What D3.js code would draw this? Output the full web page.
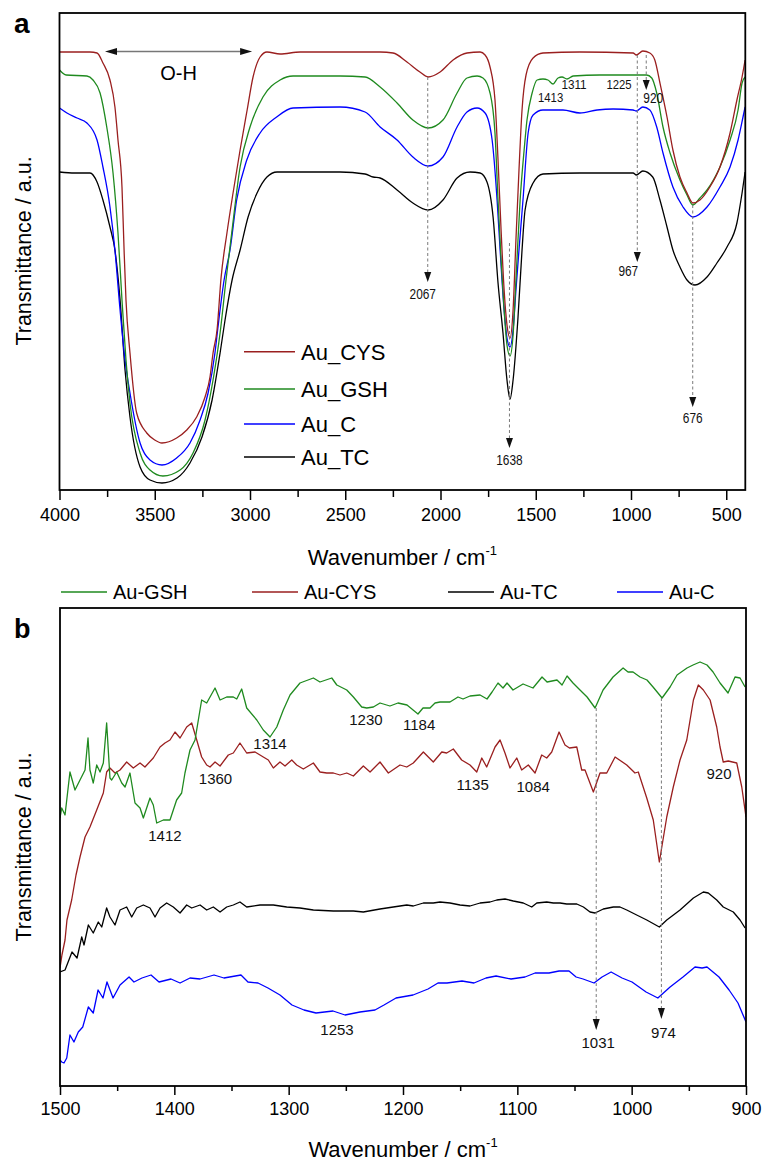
<!DOCTYPE html>
<html><head><meta charset="utf-8">
<script src="https://cdn.jsdelivr.net/npm/d3@7"></script>
<style>body{margin:0;background:#fff}svg{display:block}</style>
</head><body>
<svg id="c" width="762" height="1162"></svg>
<script>
// ---------------- DATA (wavenumber cm-1, transmittance a.u. offset) ----------------
const ticksA = [4000, 3500, 3000, 2500, 2000, 1500, 1000, 500];
const minorA = [3750, 3250, 2750, 2250, 1750, 1250, 750];
const ticksB = [1500, 1400, 1300, 1200, 1100, 1000, 900];
const minorB = [1450, 1350, 1250, 1150, 1050, 950];

const namesA = ["Au_CYS", "Au_GSH", "Au_C", "Au_TC"];
const namesB = ["Au-GSH", "Au-CYS", "Au-TC", "Au-C"];

const cysA = [[4000,438],[3920,438],[3840,438],[3803,437],[3772,427],[3735,410],[3709,383],[3693,350],[3672,303],[3661,240],[3651,190],[3630,137],[3595,77],[3542,57],[3500,50],[3462,47],[3385,52],[3332,60],[3280,73],[3236,93],[3210,113],[3194,137],[3173,160],[3152,212],[3121,257],[3089,297],[3052,340],[3015,380],[2984,413],[2947,433],[2911,438],[2842,436],[2737,438],[2527,438],[2317,438],[2249,437],[2176,428],[2108,418],[2065,413],[2002,418],[1934,430],[1861,437],[1792,438],[1766,435],[1740,423],[1714,390],[1698,330],[1682,260],[1666,200],[1651,165],[1635,152],[1619,180],[1604,250],[1588,320],[1572,380],[1551,415],[1514,432],[1462,437],[1268,438],[989,437],[972,435],[938,439],[901,437],[875,430],[848,407],[811,373],[780,340],[743,313],[706,297],[675,287],[638,290],[586,303],[533,323],[480,357],[444,390],[417,413],[401,430]];
const gshA = [[4000,420],[3965,415],[3856,414],[3824,410],[3787,397],[3752,363],[3719,317],[3693,257],[3672,190],[3651,130],[3630,87],[3577,37],[3525,20],[3457,14],[3367,20],[3299,37],[3236,70],[3194,110],[3157,157],[3126,210],[3096,257],[3052,323],[3000,363],[2932,393],[2842,410],[2774,414],[2527,414],[2396,413],[2317,403],[2228,387],[2145,370],[2065,362],[1987,370],[1913,397],[1861,412],[1808,414],[1777,412],[1740,397],[1714,357],[1698,290],[1682,230],[1666,180],[1651,145],[1635,134],[1619,155],[1604,210],[1582,290],[1561,340],[1546,370],[1519,397],[1493,410],[1462,411],[1436,410],[1409,406],[1383,412],[1362,413],[1336,411],[1304,414],[1163,415],[1058,415],[918,415],[891,412],[865,397],[832,363],[795,337],[743,310],[706,295],[675,285],[638,292],[601,300],[533,323],[480,350],[438,380],[417,407],[401,413]];
const cA = [[4000,382],[3961,377],[3908,372],[3856,367],[3803,350],[3772,323],[3735,283],[3709,240],[3682,180],[3656,130],[3630,97],[3577,47],[3525,30],[3462,25],[3385,32],[3315,47],[3262,70],[3220,97],[3184,137],[3168,163],[3136,210],[3105,240],[3070,290],[3017,330],[2947,357],[2860,373],[2774,382],[2527,383],[2396,378],[2317,363],[2228,350],[2145,333],[2065,324],[1987,333],[1913,363],[1861,378],[1808,382],[1766,377],[1729,350],[1703,290],[1687,240],[1666,180],[1651,152],[1635,143],[1619,160],[1604,200],[1588,240],[1567,290],[1540,357],[1514,375],[1462,380],[1357,380],[1268,377],[1178,380],[1094,381],[989,380],[972,379],[938,383],[901,380],[865,363],[832,337],[780,303],[727,283],[675,273],[601,283],[533,303],[480,323],[438,350],[412,373],[401,383]];
const tcA = [[4000,318],[3920,317],[3840,317],[3803,308],[3772,290],[3735,263],[3709,240],[3682,190],[3656,120],[3630,73],[3577,23],[3525,10],[3462,7],[3383,12],[3315,27],[3252,53],[3199,90],[3157,137],[3131,170],[3094,210],[3052,240],[3010,273],[2963,297],[2911,313],[2858,318],[2737,318],[2527,318],[2396,316],[2354,313],[2317,312],[2228,300],[2145,287],[2065,280],[1987,290],[1913,312],[1845,318],[1792,317],[1756,308],[1724,273],[1698,207],[1672,157],[1651,110],[1635,91],[1619,110],[1593,173],[1572,240],[1556,280],[1514,307],[1462,316],[1268,317],[989,317],[972,315],[938,319],[886,313],[848,290],[811,263],[780,240],[743,223],[706,210],[664,205],[601,213],[549,227],[496,243],[444,267],[417,297],[401,318]];

const gshB = [[1500,268],[1498.5,278],[1495.6,271],[1491.3,314],[1486.9,296],[1482.5,306],[1478.1,316],[1475.5,348],[1473.8,316],[1470.9,303],[1467.9,321],[1465,314],[1462.1,323],[1459.2,363],[1456.3,308],[1454.8,306],[1450.4,314],[1446,303],[1443.1,299],[1438.8,313],[1434.4,283],[1430,278],[1427.1,268],[1421.3,288],[1418.4,281],[1415.4,263],[1409.6,266],[1403.8,266],[1400.9,276],[1398,286],[1393.6,293],[1390.7,313],[1386.3,336],[1381.9,346],[1376.1,386],[1371.7,383],[1364.4,398],[1360,386],[1354.2,389],[1348.4,389],[1345.4,387],[1341.1,397],[1336.7,378],[1327.9,366],[1322.2,356],[1316.3,349],[1310.4,359],[1304.7,376],[1298.8,391],[1290.1,403],[1278.4,408],[1272.6,404],[1262.3,408],[1257.9,401],[1249.2,396],[1243.4,389],[1236.1,379],[1231.7,378],[1225.9,379],[1220.1,383],[1211.4,380],[1204.4,383],[1196.5,381],[1186.9,372],[1182.5,378],[1176.4,378],[1172,383],[1167.6,384],[1158.9,384],[1151.9,389],[1147.5,387],[1141.4,390],[1132.6,391],[1126.5,387],[1122.1,394],[1116.9,403],[1112.5,398],[1109,403],[1103.8,396],[1095,402],[1086.3,398],[1078.4,409],[1074,404],[1065.3,406],[1060.9,401],[1056.5,410],[1051.3,403],[1045.2,396],[1039,389],[1032,378],[1025,396],[1016.3,409],[1007.5,418],[1003.2,414],[998.8,414],[992.7,409],[986.6,406],[981.3,399],[973.4,388],[966.4,399],[960.3,411],[951.6,418],[946.3,421],[940.2,424],[934.1,421],[928.8,414],[922.7,403],[915.7,393],[909.6,409],[905.2,408],[900.8,399]];
const cysB = [[1500,118],[1498.3,131],[1495.6,146],[1493.9,166],[1489.8,186],[1486,211],[1482.5,229],[1478.1,249],[1473.8,259],[1467.9,276],[1462.1,293],[1459.2,314],[1456.3,318],[1451.9,313],[1447.5,316],[1441.7,324],[1435.9,318],[1430,323],[1425.7,319],[1418.4,328],[1412.5,339],[1408.2,343],[1403.8,346],[1399.4,354],[1395,348],[1389.2,359],[1384.8,363],[1380.4,346],[1376.1,329],[1371.7,321],[1368.8,319],[1364.4,324],[1360,320],[1352.8,331],[1348.4,333],[1342.6,343],[1336.7,333],[1329.4,334],[1322.2,329],[1317.8,326],[1313.4,318],[1307.6,324],[1303.2,320],[1297.3,326],[1293,321],[1287.2,317],[1278.4,323],[1272.6,314],[1266.7,313],[1260.9,313],[1255.1,311],[1249.2,313],[1243.4,310],[1234.7,320],[1228.8,314],[1220.1,324],[1212.8,313],[1202.6,321],[1196.7,319],[1191,323],[1182.2,334],[1173.5,324],[1166.1,334],[1161.8,333],[1156,337],[1148.7,326],[1141.4,321],[1135.5,314],[1131.1,328],[1126.8,319],[1119.5,339],[1115.1,346],[1110.8,333],[1106.4,318],[1100.5,328],[1096.2,316],[1090.4,321],[1084.5,313],[1078.7,331],[1074.3,328],[1069.9,334],[1063.5,354],[1058.3,341],[1054.4,338],[1048,339],[1043.7,316],[1040.8,316],[1033.5,294],[1027.7,313],[1021.8,313],[1014.5,329],[1004.3,321],[997.1,313],[994.2,314],[986.8,288],[981.1,266],[975.8,224],[969.3,269],[963.6,299],[957.7,326],[951.8,346],[946,386],[941.7,401],[937.3,396],[931.4,386],[925.6,359],[922.7,339],[919.9,324],[915.5,325],[908.1,323],[903.7,299],[900,269]];
const tcB = [[1500,114],[1495.6,116],[1489.5,134],[1485.1,128],[1481,149],[1479,141],[1475.2,161],[1470.9,153],[1466.5,164],[1463.5,159],[1459.2,178],[1456.3,169],[1451.9,161],[1447.5,176],[1441.7,179],[1437.3,169],[1432.9,178],[1427.1,181],[1421.3,178],[1416.9,169],[1412.5,178],[1406.7,183],[1400.9,179],[1395,173],[1389.2,181],[1384.8,178],[1377.5,181],[1371.7,176],[1365.9,179],[1360,174],[1354.2,179],[1348.4,181],[1342.6,184],[1336.7,179],[1325,181],[1313.4,181],[1301.7,179],[1290.1,178],[1278.4,176],[1260.9,175],[1243.4,175],[1234.7,174],[1220.1,177],[1208.5,179],[1196.7,181],[1191,180],[1182.2,183],[1173.5,183],[1167.6,184],[1158.9,183],[1150.1,181],[1141.4,180],[1132.6,183],[1123.9,184],[1118,186],[1110.8,187],[1103.5,185],[1094.8,183],[1087.4,179],[1083,183],[1074.3,184],[1068.5,183],[1062.6,183],[1056.8,182],[1048,182],[1042.2,179],[1036.4,174],[1032,173],[1024.8,177],[1016,179],[1010.2,179],[1004.3,176],[995.6,171],[986.8,166],[975.8,159],[969.3,166],[957.7,176],[946,188],[937.3,194],[933,193],[925.6,186],[919.9,179],[911.1,174],[905.2,166],[900.8,158]];
const cB = [[1500,26],[1498.5,24],[1496.5,23],[1494.1,28],[1491.3,51],[1487.8,44],[1484,54],[1480.1,59],[1475.2,79],[1470.9,73],[1466.7,96],[1462.4,88],[1458.9,104],[1453.6,88],[1447.5,101],[1439.6,109],[1435.3,104],[1428.3,108],[1420.4,111],[1413.4,104],[1402.9,107],[1395,103],[1386.3,108],[1377.5,107],[1365.3,111],[1356.6,108],[1341.7,111],[1335.6,104],[1326.8,103],[1318.1,98],[1307.6,91],[1297.1,81],[1286.6,76],[1276.1,73],[1261.2,75],[1250.7,71],[1237.6,74],[1224.5,76],[1216.6,81],[1206.1,88],[1191.2,91],[1178.1,97],[1169.4,103],[1161.5,103],[1148.4,105],[1137.9,103],[1127.4,108],[1118.6,110],[1105.5,107],[1093.3,109],[1084.5,113],[1072.3,113],[1063.5,115],[1054.8,115],[1048.6,109],[1042.5,107],[1032.9,103],[1025.9,109],[1018,114],[1008.4,108],[999.7,104],[987.4,94],[977.1,88],[966.4,99],[955.1,109],[944.6,119],[938.4,118],[934.1,119],[923.6,109],[914.8,96],[907,83],[900,64]];

// annotations: wavenumber label, dashed line from / to (a.u.)
const arrowsA = [
  {text:"2067", w:2067, from:413, to:208},
  {text:"1638", w:1638, from:247, to:42},
  {text:"967",  w:967,  from:435, to:228},
  {text:"676",  w:676,  from:285, to:83},
  {text:"920",  w:920,  from:435, to:400}
];
const peakLabelsA = [
  {text:"1413", w:1422, v:388},
  {text:"1311", w:1299, v:401},
  {text:"1225", w:1063, v:401}
];
const arrowsB = [
  {text:"1031", w:1031, from:378, to:56},
  {text:"974",  w:974,  from:388, to:67}
];
const peakLabelsB = [
  {text:"1314", w:1316.3, v:337},
  {text:"1230", w:1232.4, v:361},
  {text:"1184", w:1185.9, v:356},
  {text:"1360", w:1364.0, v:302},
  {text:"1412", w:1408.2, v:245},
  {text:"1135", w:1139.1, v:296},
  {text:"1084", w:1086.1, v:294},
  {text:"920",  w:923.6,  v:307},
  {text:"1253", w:1257.7, v:51}
];
const ohRange = [3761, 2989];

// ---------------- STYLE / LAYOUT ----------------
const FONT = "'Liberation Sans', Arial, Helvetica, sans-serif";
const colorOf = {"Au_CYS":"#9a1f1f","Au_GSH":"#1f8a1f","Au_C":"#0000ff","Au_TC":"#000000",
                 "Au-CYS":"#9a1f1f","Au-GSH":"#1f8a1f","Au-C":"#0000ff","Au-TC":"#000000"};

const svg = d3.select("#c");
const xA = d3.scaleLinear().domain([4000, 400]).range([59.5, 745.3]);
const yA = d3.scaleLinear().domain([0, 477]).range([490, 13]);
const xB = d3.scaleLinear().domain([1500, 900]).range([60, 746]);
const yB = d3.scaleLinear().domain([0, 478]).range([1086, 608]);

const defs = svg.append("defs");
function addClip(id, x, y) {
  defs.append("clipPath").attr("id", id).append("rect")
    .attr("x", x.range()[0]).attr("y", y.range()[1])
    .attr("width", x.range()[1] - x.range()[0]).attr("height", y.range()[0] - y.range()[1]);
}
addClip("clipA", xA, yA); addClip("clipB", xB, yB);

function drawCurves(x, y, list, curve, clip) {
  const line = d3.line().x(d => x(d[0])).y(d => y(d[1])).curve(curve);
  svg.append("g").attr("clip-path", `url(#${clip})`)
    .selectAll("path").data(list).join("path")
    .attr("d", d => line(d.values)).attr("fill", "none")
    .attr("stroke", d => colorOf[d.name]).attr("stroke-width", 1.3)
    .attr("stroke-linejoin", "round");
}

function drawAxis(x, y, major, minor, majLen, minLen, pad) {
  const y0 = y.range()[0];
  const g = svg.append("g").attr("transform", `translate(0,${y0})`);
  g.call(d3.axisBottom(x).tickValues(major).tickSize(majLen).tickSizeOuter(0).tickPadding(pad).tickFormat(d3.format("d")));
  g.select(".domain").remove();
  g.selectAll(".tick line").attr("stroke", "#000").attr("stroke-width", 1.5);
  g.selectAll(".tick text").attr("font-size", 18).attr("font-family", FONT).attr("fill", "#000");
  const gm = svg.append("g").attr("transform", `translate(0,${y0})`);
  gm.call(d3.axisBottom(x).tickValues(minor).tickSize(minLen).tickSizeOuter(0).tickFormat(""));
  gm.select(".domain").remove();
  gm.selectAll(".tick line").attr("stroke", "#000").attr("stroke-width", 1.5);
  svg.append("rect").attr("x", x.range()[0]).attr("y", y.range()[1])
    .attr("width", x.range()[1] - x.range()[0]).attr("height", y.range()[0] - y.range()[1])
    .attr("fill", "none").attr("stroke", "#000").attr("stroke-width", 1.8);
}

function xTitle(x, baseline) {
  const t = svg.append("text").attr("x", (x.range()[0] + x.range()[1]) / 2).attr("y", baseline)
    .attr("text-anchor", "middle").attr("font-family", FONT).attr("font-size", 22);
  t.append("tspan").text("Wavenumber / cm");
  t.append("tspan").attr("font-size", 13).attr("dy", -10).text("-1");
}
function yTitle(cy) {
  svg.append("text").attr("transform", `translate(31,${cy}) rotate(-90)`)
    .attr("text-anchor", "middle").attr("font-family", FONT).attr("font-size", 21.5)
    .text("Transmittance / a.u.");
}
function arrowHead(px, py, w, h) {
  svg.append("path").attr("d", `M${px},${py} L${px - w / 2},${py - h} L${px + w / 2},${py - h} Z`).attr("fill", "#111");
}
function dashed(px, y1, y2) {
  svg.append("line").attr("x1", px).attr("x2", px).attr("y1", y1).attr("y2", y2)
    .attr("stroke", "#7a7a7a").attr("stroke-width", 1).attr("stroke-dasharray", "3,2.5");
}
function label(px, py, txt, size, narrowW) {
  const t = svg.append("text").attr("x", px).attr("y", py).attr("text-anchor", "middle")
    .attr("font-family", FONT).attr("font-size", size).attr("fill", "#111").text(txt);
  if (narrowW) t.attr("textLength", narrowW * txt.length).attr("lengthAdjust", "spacingAndGlyphs");
}

// ---------------- PANEL A ----------------
drawCurves(xA, yA, [
  {name:"Au_TC", values:tcA}, {name:"Au_C", values:cA},
  {name:"Au_GSH", values:gshA}, {name:"Au_CYS", values:cysA}
], d3.curveMonotoneX, "clipA");
drawAxis(xA, yA, ticksA, minorA, 10, 7, 8.2);
xTitle(xA, 565);
yTitle(251);
svg.append("text").attr("x", 14).attr("y", 33).attr("font-family", FONT).attr("font-weight", "bold").attr("font-size", 28).text("a");

// O-H double arrow
{
  const x1 = xA(ohRange[0]), x2 = xA(ohRange[1]), yy = yA(438.5);
  svg.append("line").attr("x1", x1 + 10).attr("x2", x2 - 10).attr("y1", yy).attr("y2", yy).attr("stroke", "#777").attr("stroke-width", 1.6);
  svg.append("path").attr("d", `M${x1},${yy} L${x1 + 12},${yy - 3.5} L${x1 + 12},${yy + 3.5} Z`).attr("fill", "#111");
  svg.append("path").attr("d", `M${x2},${yy} L${x2 - 12},${yy - 3.5} L${x2 - 12},${yy + 3.5} Z`).attr("fill", "#111");
  svg.append("text").attr("x", (x1 + x2) / 2 + 0).attr("y", yy + 28).attr("text-anchor", "middle")
    .attr("font-family", FONT).attr("font-size", 20).text("O-H");
}
const arrowLabelOffA = {"2067":[-5,17], "1638":[0,17], "967":[-9,14], "676":[0,16], "920":[7,13]};
arrowsA.forEach(a => {
  const px = xA(a.w);
  dashed(px, yA(a.from), yA(a.to) - 9);
  arrowHead(px, yA(a.to), 7, 10);
  const o = arrowLabelOffA[a.text];
  label(px + o[0], yA(a.to) + o[1], a.text, 14, 6.6);
});
peakLabelsA.forEach(p => label(xA(p.w), yA(p.v), p.text, 13, 6.3));

// legend A
const legYA = [351.7, 389, 424, 457];
namesA.forEach((n, i) => {
  svg.append("line").attr("x1", 244).attr("x2", 295).attr("y1", legYA[i]).attr("y2", legYA[i])
    .attr("stroke", colorOf[n]).attr("stroke-width", 1.6);
  svg.append("text").attr("x", 301).attr("y", legYA[i] + 8).attr("font-family", FONT)
    .attr("font-size", 22).text(n);
});

// ---------------- PANEL B ----------------
drawCurves(xB, yB, [
  {name:"Au-C", values:cB}, {name:"Au-TC", values:tcB},
  {name:"Au-CYS", values:cysB}, {name:"Au-GSH", values:gshB}
], d3.curveLinear, "clipB");
drawAxis(xB, yB, ticksB, minorB, 9, 5, 7.2);
xTitle(xB, 1157);
yTitle(847);
svg.append("text").attr("x", 14).attr("y", 638).attr("font-family", FONT).attr("font-weight", "bold").attr("font-size", 27).text("b");

arrowsB.forEach((a, i) => {
  const px = xB(a.w);
  dashed(px, yB(a.from), yB(a.to) - 9);
  arrowHead(px, yB(a.to), 7, 11);
  label(px + 2, yB(a.to) + (i === 0 ? 18 : 19), a.text, 15);
});
peakLabelsB.forEach(p => label(xB(p.w), yB(p.v), p.text, 15));

// legend B
const legXB = [61, 252, 448, 617];
namesB.forEach((n, i) => {
  svg.append("line").attr("x1", legXB[i]).attr("x2", legXB[i] + 46).attr("y1", 592).attr("y2", 592)
    .attr("stroke", colorOf[n]).attr("stroke-width", 1.5);
  svg.append("text").attr("x", legXB[i] + 52).attr("y", 599).attr("font-family", FONT)
    .attr("font-size", 20).text(n);
});
</script>
</body></html>
